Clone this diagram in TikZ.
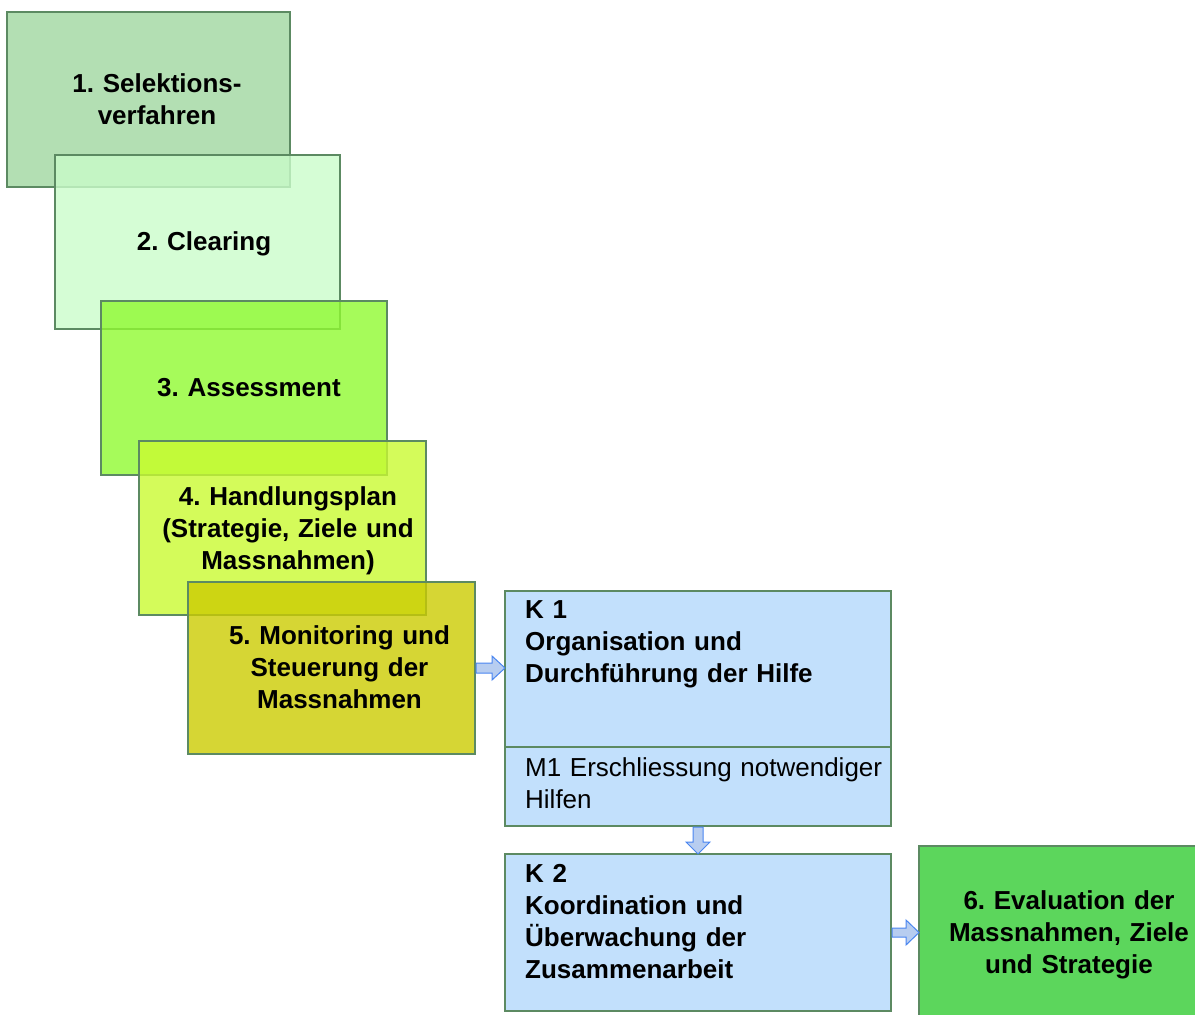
\documentclass[tikz,border=0pt]{standalone}
\usepackage{fontspec}
\setmainfont{Liberation Sans}
\usetikzlibrary{calc}
\frenchspacing
\definecolor{bord}{RGB}{92,138,98}
\definecolor{cA}{RGB}{160,215,160}
\definecolor{cB}{RGB}{202,252,202}
\definecolor{cC}{RGB}{144,250,49}
\definecolor{cD}{RGB}{201,250,49}
\definecolor{cE}{RGB}{204,204,1}
\definecolor{cK}{RGB}{194,224,252}
\definecolor{cF}{RGB}{92,214,92}
\definecolor{arrline}{RGB}{74,134,240}
\definecolor{arrfill}{RGB}{183,205,240}
\begin{document}
\begin{tikzpicture}[x=1pt,y=-1pt,
  box/.style={draw=bord, line width=1.3pt, outer sep=0pt, inner sep=0pt, rectangle},
  tbox/.style={box, fill opacity=0.8, text opacity=1},
  lbl/.style={font=\bfseries\fontsize{26}{32}\selectfont\frenchspacing, text width=330pt, align=center, inner sep=0pt, anchor=base},
  klbl/.style={font=\bfseries\fontsize{26}{32}\selectfont\frenchspacing, text width=380pt, align=left, inner sep=0pt, anchor=base west},
  mlbl/.style={font=\fontsize{26}{32}\selectfont\frenchspacing, text width=380pt, align=left, inner sep=0pt, anchor=base west},
  blockarrow/.style={draw=arrline, fill=arrfill, line width=1pt, line join=miter}]
\useasboundingbox (0,0) rectangle (1195,1015);

\node[tbox, fill=cA, minimum width=283pt, minimum height=175pt] (b1) at (148.5,99.5) {};
\node[lbl] (t1) at (157,92) {1. Selektions-\\verfahren};
\node[tbox, fill=cB, minimum width=285pt, minimum height=174pt] (b2) at (197.5,242) {};
\node[lbl] (t2) at (204,250) {2. Clearing};
\node[tbox, fill=cC, minimum width=286pt, minimum height=174pt] (b3) at (244,388) {};
\node[lbl] (t3) at (249,396) {3. Assessment};
\node[tbox, fill=cD, minimum width=287pt, minimum height=174pt] (b4) at (282.5,528) {};
\node[lbl] (t4) at (288,505) {4. Handlungsplan\\(Strategie, Ziele und\\Massnahmen)};
\node[tbox, fill=cE, minimum width=287pt, minimum height=172pt] (b5) at (331.5,668) {};
\node[lbl] (t5) at (339.5,644) {5. Monitoring und\\Steuerung der\\Massnahmen};

\node[box, fill=cK, minimum width=386pt, minimum height=156pt] (k1) at (698,669) {};
\node[klbl] (tk1) at (525,618) {K 1\\Organisation und\\Durchführung der Hilfe};
\node[box, fill=cK, minimum width=386pt, minimum height=79pt] (m1) at (698,786.5) {};
\node[mlbl] (tm1) at (525,776) {M1 Erschliessung notwendiger\\Hilfen};
\node[box, fill=cK, minimum width=386pt, minimum height=157pt] (k2) at (698,932.5) {};
\node[klbl] (tk2) at (525,882) {K 2\\Koordination und\\Überwachung der\\Zusammenarbeit};

\node[box, fill=cF, minimum width=286pt, minimum height=179pt] (b6) at (1062,935.5) {};
\node[lbl] (t6) at (1069,909) {6. Evaluation der\\Massnahmen, Ziele\\und Strategie};

\draw[blockarrow] (b5.east) ++(1,-5) -- ++(16,0) -- ++(0,-7) -- ++(13,12) -- ++(-13,12) -- ++(0,-7) -- ++(-16,0) -- cycle;
\draw[blockarrow] (m1.south) ++(-5,1) -- ++(0,15) -- ++(-7,0) -- ++(12,12) -- ++(12,-12) -- ++(-7,0) -- ++(0,-15) -- cycle;
\draw[blockarrow] (k2.east) ++(1,-4.5) -- ++(14,0) -- ++(0,-8) -- ++(13,12.5) -- ++(-13,12.5) -- ++(0,-8) -- ++(-14,0) -- cycle;
\end{tikzpicture}
\end{document}
